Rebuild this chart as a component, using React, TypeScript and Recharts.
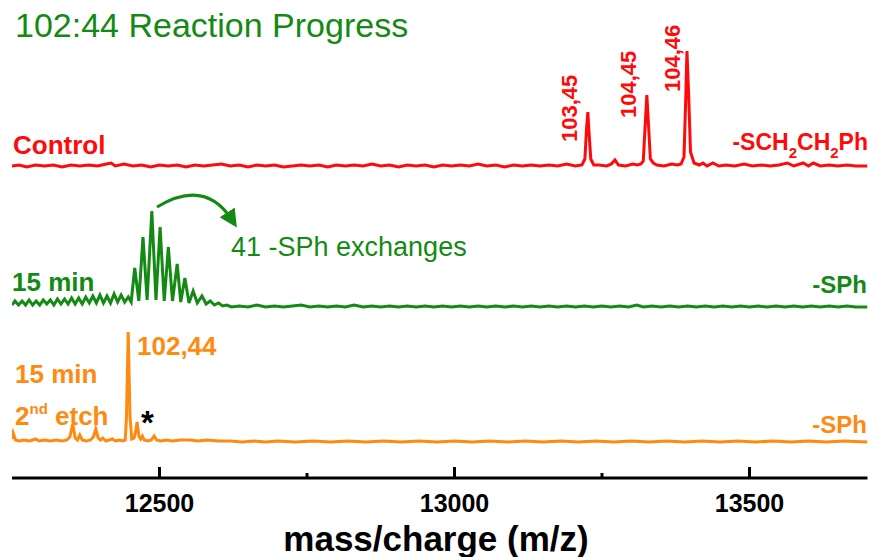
import React from "react";
import { LineChart, Line, XAxis, YAxis } from "recharts";

// m/z range and axis ticks
const mzDomain = [12250, 13700];
const mzTicks = [12250, 12500, 12750, 13000, 13250, 13500];

// Control spectrum (-SCH2CH2Ph), [m/z, intensity]
const controlSpectrum: [number, number][] = [
  [12250, 1], [12262, 2], [12275, 0], [12290, 2], [12305, 1], [12320, 2], [12335, 0],
  [12350, 2], [12365, 1], [12380, 2], [12395, 1], [12410, 3], [12418, 4], [12425, 1],
  [12440, 3], [12455, 1], [12470, 2], [12485, 0], [12500, 2], [12515, 1], [12530, 2],
  [12545, 0], [12560, 2], [12575, 1], [12590, 2], [12605, 3], [12620, 1], [12635, 2],
  [12650, 0], [12665, 2], [12680, 1], [12695, 2], [12710, 0], [12725, 1], [12740, 2],
  [12755, 1], [12770, 2], [12785, 0], [12800, 2], [12815, 1], [12830, 2], [12845, 1],
  [12860, 3], [12875, 1], [12890, 2], [12905, 0], [12920, 2], [12935, 1], [12950, 2],
  [12965, 0], [12980, 2], [12995, 1], [13010, 2], [13025, 1], [13040, 3], [13055, 1],
  [13070, 2], [13085, 0], [13100, 2], [13115, 1], [13130, 2], [13145, 1], [13160, 2],
  [13175, 1], [13190, 3], [13205, 1],
  [13216, 2], [13221, 8], [13224, 40], [13226, 55], [13228, 35], [13231, 8], [13236, 2],
  [13245, 2], [13258, 1], [13266, 3], [13272, 7], [13278, 2], [13290, 1], [13302, 3], [13310, 2],
  [13316, 3], [13320, 6], [13323, 40], [13326, 72], [13329, 40], [13332, 8], [13337, 4],
  [13343, 2], [13355, 1], [13368, 3], [13378, 2],
  [13384, 3], [13389, 10], [13392, 70], [13394, 116], [13397, 70], [13400, 15], [13406, 4],
  [13415, 2], [13421, 4], [13428, 1], [13438, 4], [13448, 1], [13460, 2], [13475, 1],
  [13491, 3], [13505, 1], [13520, 2], [13535, 1], [13550, 2], [13564, 4], [13575, 1],
  [13591, 4], [13600, 1], [13608, 4], [13620, 1], [13635, 2], [13650, 1], [13665, 2],
  [13680, 1], [13700, 1],
];

// 15 min, -SPh exchange spectrum
const sphSpectrum: [number, number][] = [
  [12250, 2], [12255, 6], [12261, 2], [12267, 6], [12273, 2], [12279, 7], [12285, 2],
  [12291, 6], [12297, 2], [12303, 7], [12309, 3], [12315, 7], [12321, 2], [12327, 8],
  [12333, 3], [12339, 8], [12345, 3], [12351, 9], [12357, 3], [12363, 9], [12369, 3],
  [12375, 10], [12381, 4], [12387, 11], [12393, 4], [12399, 12], [12405, 4], [12411, 11],
  [12417, 4], [12423, 13], [12429, 5], [12435, 12], [12441, 5], [12447, 10], [12452, 5],
  [12458, 39], [12465, 6], [12472, 70], [12479, 7], [12487, 96], [12494, 7], [12501, 80],
  [12508, 6], [12515, 60], [12522, 6], [12530, 43], [12536, 5], [12543, 29], [12550, 4],
  [12557, 16], [12564, 4], [12572, 11], [12579, 3], [12586, 6], [12593, 2], [12600, 4],
  [12607, 1], [12614, 2], [12622, 0], [12635, 1], [12650, 0], [12665, 2], [12680, 0],
  [12695, 1], [12710, 0], [12725, 1], [12740, 2], [12755, 0], [12770, 1], [12785, 0],
  [12800, 1], [12815, 0], [12830, 2], [12845, 0], [12860, 1], [12875, 0], [12890, 1],
  [12905, 0], [12920, 1], [12935, 0], [12950, 1], [12965, 0], [12980, 1], [12995, 0],
  [13010, 1], [13025, 0], [13040, 1], [13055, 0], [13070, 1], [13085, 0], [13100, 1],
  [13115, 0], [13130, 1], [13145, 0], [13160, 1], [13175, 0], [13190, 1], [13205, 0],
  [13220, 1], [13235, 0], [13250, 1], [13265, 0], [13280, 1], [13295, 0], [13309, 2],
  [13320, 0], [13335, 1], [13350, 0], [13365, 1], [13380, 0], [13395, 1], [13410, 0],
  [13425, 1], [13440, 0], [13455, 1], [13470, 0], [13485, 1], [13500, 0], [13515, 1],
  [13530, 0], [13545, 1], [13560, 0], [13575, 1], [13590, 0], [13605, 1], [13620, 0],
  [13635, 1], [13650, 0], [13665, 1], [13680, 0], [13700, 0],
];

// 15 min, 2nd etch spectrum
const etchSpectrum: [number, number][] = [
  [12250, 3], [12252, 9], [12256, 2], [12262, 1], [12270, 2], [12280, 1], [12290, 3],
  [12296, 1], [12305, 2], [12315, 1], [12325, 2], [12335, 1], [12343, 2], [12348, 5],
  [12353, 18], [12357, 4], [12361, 2], [12365, 7], [12369, 2], [12376, 1], [12383, 2],
  [12388, 5], [12392, 13], [12396, 4], [12400, 2], [12404, 4], [12409, 1], [12415, 2],
  [12420, 3], [12425, 1], [12432, 2], [12438, 1], [12442, 2], [12444, 25], [12447, 110],
  [12450, 25], [12453, 3], [12457, 4], [12460, 12], [12462, 20], [12465, 6], [12468, 3],
  [12471, 6], [12474, 2], [12480, 1], [12486, 2], [12491, 6], [12495, 2], [12502, 1],
  [12512, 2], [12522, 1], [12535, 2], [12552, 2], [12565, 1], [12580, 2], [12600, 1],
  [12620, 1], [12640, 0], [12660, 1], [12680, 0], [12700, 1], [12730, 0], [12760, 1],
  [12790, 0], [12820, 1], [12850, 0], [12880, 1], [12910, 0], [12940, 1], [12970, 0],
  [13000, 1], [13030, 0], [13060, 1], [13090, 0], [13120, 1], [13150, 0], [13180, 1],
  [13210, 0], [13240, 1], [13270, 0], [13300, 1], [13330, 0], [13360, 1], [13390, 0],
  [13420, 1], [13450, 0], [13480, 1], [13510, 0], [13540, 1], [13570, 0], [13600, 1],
  [13630, 0], [13660, 1], [13700, 0],
];

const RED = "#ff0a0a";
const GREEN = "#138a13";
const ORANGE = "#ff8a10";
const FONT = "'Liberation Sans', Arial, sans-serif";

// vertical stacking offsets for the three traces
const stack = { control: 311, sph: 171, etch: 36 };

const toRows = (spec: [number, number][], offset: number) =>
  spec.map(([mz, v]) => ({ mz, y: v + offset }));

const MzTick = (props: any) => {
  const { x, y, payload } = props;
  const major = payload.value % 500 === 0;
  return (
    <g>
      <line x1={x} y1={y} x2={x} y2={y - (major ? 11 : 5)} stroke="#000" strokeWidth={3} />
      {major && (
        <text x={x} y={y + 34} textAnchor="middle" fontFamily={FONT} fontWeight="bold" fontSize={25} fill="#000">
          {payload.value}
        </text>
      )}
    </g>
  );
};

export default function App() {
  return (
    <div style={{ position: "absolute", left: 0, top: 0, width: 871, height: 557, background: "#fff" }}>
      <LineChart width={871} height={557} margin={{ top: 0, right: 3.5, bottom: 0, left: 12 }}>
        <XAxis
          dataKey="mz"
          type="number"
          domain={mzDomain}
          ticks={mzTicks}
          allowDataOverflow
          height={79}
          tickSize={0}
          tickMargin={0}
          tickLine={false}
          axisLine={{ stroke: "#000", strokeWidth: 3 }}
          tick={<MzTick />}
        />
        <YAxis hide width={0} type="number" domain={[0, 478]} />
        <Line data={toRows(controlSpectrum, stack.control)} dataKey="y" type="linear" stroke={RED} strokeWidth={3} dot={false} isAnimationActive={false} />
        <Line data={toRows(sphSpectrum, stack.sph)} dataKey="y" type="linear" stroke={GREEN} strokeWidth={3} dot={false} isAnimationActive={false} />
        <Line data={toRows(etchSpectrum, stack.etch)} dataKey="y" type="linear" stroke={ORANGE} strokeWidth={3} dot={false} isAnimationActive={false} />
      </LineChart>
      <svg width={871} height={557} style={{ position: "absolute", left: 0, top: 0, pointerEvents: "none" }}>
        <defs>
          <marker id="arrowHead" markerWidth="6" markerHeight="6" refX="3" refY="3" orient="auto" markerUnits="strokeWidth">
            <path d="M0,0 L6,3 L0,6 z" fill={GREEN} />
          </marker>
        </defs>
        <g fontFamily={FONT}>
          <text x={15} y={37} fontSize={34} fill={GREEN}>102:44 Reaction Progress</text>

          <text x={13} y={154} fontSize={26} fontWeight="bold" fill={RED}>Control</text>
          <text transform="translate(577,142) rotate(-90)" fontSize={22} fontWeight="bold" fill={RED}>103,45</text>
          <text transform="translate(636,118) rotate(-90)" fontSize={22} fontWeight="bold" fill={RED}>104,45</text>
          <text transform="translate(680,92) rotate(-90)" fontSize={22} fontWeight="bold" fill={RED}>104,46</text>
          <text x={868} y={150} textAnchor="end" fontSize={23} fontWeight="bold" fill={RED}>
            -SCH<tspan fontSize={15} dy={8}>2</tspan><tspan dy={-8}>CH</tspan><tspan fontSize={15} dy={8}>2</tspan><tspan dy={-8}>Ph</tspan>
          </text>

          <text x={12} y={291} fontSize={26} fontWeight="bold" fill={GREEN}>15 min</text>
          <text x={231} y={256} fontSize={27} fill={GREEN}>41 -SPh exchanges</text>
          <text x={867} y={293} textAnchor="end" fontSize={24} fontWeight="bold" fill={GREEN}>-SPh</text>

          <text x={137} y={355} fontSize={26} fontWeight="bold" fill={ORANGE}>102,44</text>
          <text x={15} y={383} fontSize={26} fontWeight="bold" fill={ORANGE}>15 min</text>
          <text x={15} y={425} fontSize={26} fontWeight="bold" fill={ORANGE}>
            2<tspan fontSize={15} dy={-11}>nd</tspan><tspan dy={11}> etch</tspan>
          </text>
          <text x={141} y={434} fontSize={33} fontWeight="bold" fill="#000">*</text>
          <text x={867} y={433} textAnchor="end" fontSize={24} fontWeight="bold" fill={ORANGE}>-SPh</text>

          <text x={436} y={551} textAnchor="middle" fontSize={35} fontWeight="bold" fill="#000">mass/charge (m/z)</text>
        </g>
        <path d="M157,207 Q205,178 232,220" fill="none" stroke={GREEN} strokeWidth={3} markerEnd="url(#arrowHead)" />
      </svg>
    </div>
  );
}
